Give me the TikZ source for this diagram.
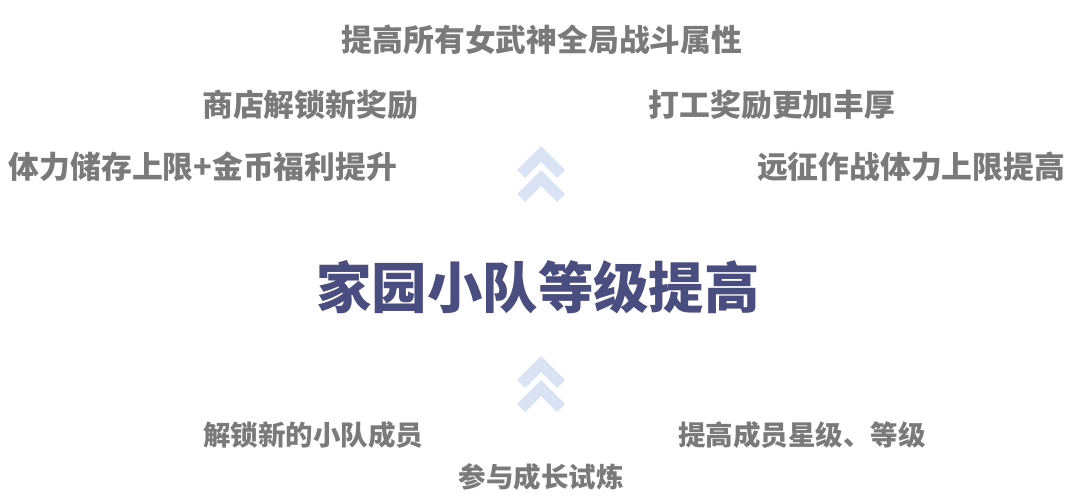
\documentclass[tikz,border=0pt]{standalone}
\usepackage{fontspec}
\newfontfamily\cjk{Noto Sans CJK SC}
\usetikzlibrary{shapes.geometric}
\definecolor{perkgray}{HTML}{7A7A7A}
\definecolor{titleblue}{HTML}{4A4D7F}
\definecolor{chevblue}{HTML}{DAE3F3}
\tikzstyle{perk} = [inner sep=0pt, text=perkgray, font=\cjk\bfseries\fontsize{30.8}{34}\selectfont]
\tikzstyle{task} = [inner sep=0pt, text=perkgray, font=\cjk\bfseries\fontsize{27.5}{31}\selectfont]
\tikzstyle{title} = [inner sep=0pt, text=titleblue, font=\cjk\bfseries\fontsize{55.4}{60}\selectfont]
\tikzstyle{chevron} = [fill=chevblue, draw=none]
\begin{document}
\begin{tikzpicture}[x=1pt, y=-1pt]
    \useasboundingbox (0,0) rectangle (1080,498);
    % rewards
    \node [perk] at (542,40) (allbuff) {提高所有女武神全局战斗属性};
    \node [perk] at (310,105) (shop) {商店解锁新奖励};
    \node [perk] at (772,105) (work) {打工奖励更加丰厚};
    \node [perk] at (203,167) (stamina) {体力储存上限+金币福利提升};
    \node [perk] at (911,167) (expedition) {远征作战体力上限提高};
    % level up
    \node [title] at (538,287) (teamlevel) {家园小队等级提高};
    % requirements
    \node [task] at (313,435) (unlock) {解锁新的小队成员};
    \node [task] at (802,435) (star) {提高成员星级、等级};
    \node [task] at (541,477) (trial) {参与成长试炼};
    % chevrons
    \foreach \y in {146,170,356,380}
        \fill [chevron] (541,\y) -- (565,\y+24) -- (557,\y+32) -- (541,\y+16) -- (525,\y+32) -- (517,\y+24) -- cycle;
\end{tikzpicture}
\end{document}
